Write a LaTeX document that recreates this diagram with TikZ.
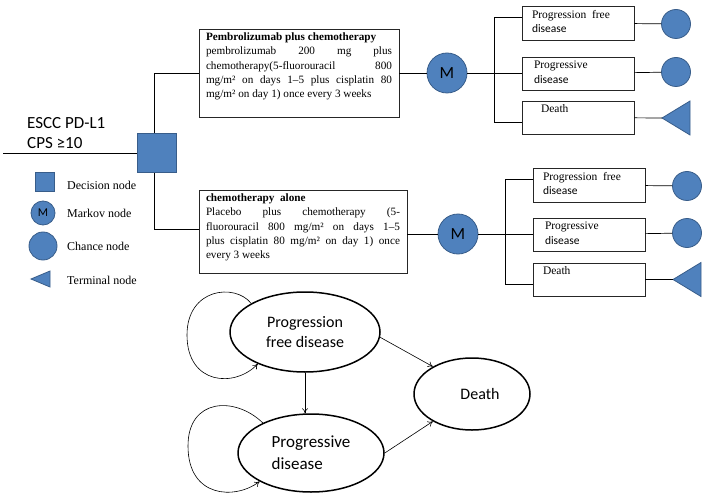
\documentclass[tikz,border=0pt]{standalone}
\usepackage{fontspec}
\setmainfont{Liberation Serif}
\setsansfont{Carlito}
\usetikzlibrary{shapes.geometric,arrows.meta}

\definecolor{nodeblue}{RGB}{79,129,189}
\definecolor{nodeedge}{RGB}{56,93,138}

% one line of a justified box, stretched to the full width
\newcommand\fillline[1]{\makebox[\linewidth][s]{#1}\par}

\tikzset{
  decision/.style={draw=nodeedge, fill=nodeblue, line width=0.8pt, inner sep=0, minimum size=#1},
  decision/.default=39pt,
  markov/.style={circle, draw=nodeedge, fill=nodeblue, line width=0.8pt, inner sep=0, minimum size=#1},
  markov/.default=40pt,
  chance/.style={circle, draw=nodeedge, fill=nodeblue, line width=0.8pt, inner sep=0, minimum size=#1},
  chance/.default=29pt,
  terminal/.style={draw=nodeedge, fill=nodeblue, line width=0.8pt},
  armbox/.style={draw=black!85, line width=0.7pt, inner xsep=7pt, inner ysep=4pt,
    font=\fontsize{11.2}{14.2}\selectfont},
  statebox/.style={draw=black!85, line width=0.7pt, inner xsep=10pt, inner ysep=4pt,
    font=\fontsize{11.5}{14.5}\selectfont},
  legend/.style={anchor=west, inner sep=0, font=\fontsize{12}{13}\selectfont},
  state/.style={ellipse, draw, line width=1.5pt, inner sep=0},
  tree/.style={line width=0.7pt},
  move/.style={-{To[length=5pt,width=6pt]}, line width=0.6pt}
}

\begin{document}
\begin{tikzpicture}[x=1pt, y=-1pt]
    \useasboundingbox (0,0) rectangle (708,494);

    % Decision node and population
    \node[anchor=west, align=left, inner sep=0, font=\sffamily\fontsize{17}{20}\selectfont]
        (escc) at (27,133) {ESCC PD-L1\\CPS ≥10};
    \coordinate (start) at (3,153);
    \node[decision] (dec) at (157,153) {};
    \draw[tree] (start) -- (dec);

    % Arm boxes
    \node[armbox] (pembro) at (299,73) {\parbox[c][80pt][t]{186pt}{%
        \textbf{Pembrolizumab plus chemotherapy}\par
        \fillline{pembrolizumab 200 mg plus}
        \fillline{chemotherapy(5-fluorouracil 800}
        \fillline{mg/m² on days 1–5 plus cisplatin 80}
        mg/m² on day 1) once every 3 weeks}};
    \node[armbox] (chemo) at (303,231.5) {\parbox[c][75pt][t]{194pt}{%
        \textbf{chemotherapy\ \ alone}\par
        \fillline{Placebo plus chemotherapy (5-}
        \fillline{fluorouracil 800 mg/m² on days 1–5}
        \fillline{plus cisplatin 80 mg/m² on day 1) once}
        every 3 weeks}};
    \draw[tree] ([xshift=-3pt]dec.north) |- (pembro.west);
    \draw[tree] ([xshift=-3pt]dec.south) |- ([yshift=2.5pt]chemo.west);

    % Markov nodes
    \node[markov, font=\sffamily\fontsize{17}{17}\selectfont] (mk1) at (447,73) {M};
    \node[markov, font=\sffamily\fontsize{17}{17}\selectfont] (mk2) at (458,234) {M};
    \draw[tree] (pembro) -- (mk1);
    \draw[tree] (chemo.east |- mk2) -- (mk2);
    \coordinate (fork1) at (494,73);
    \coordinate (fork2) at (505,234);
    \draw[tree] (mk1) -- (fork1);
    \draw[tree] (mk2) -- (fork2);

    % Health states, upper arm
    \node[statebox] (pf1) at (578,23) {\parbox[c][26pt][t]{92pt}{Progression\ \ free\\\sffamily disease}};
    \node[statebox] (pg1) at (578,73.5) {\parbox[c][25pt][t]{92pt}{\hspace{2pt}Progressive\\\hspace*{2pt}\sffamily disease}};
    \node[statebox] (de1) at (578,117.5) {\parbox[c][25pt][t]{92pt}{\hspace{9pt}Death}};
    \draw[tree] (fork1) |- ([yshift=6pt]pf1.west);
    \draw[tree] (fork1) |- (pg1.west);
    \draw[tree] (fork1) |- ([yshift=-5pt]de1.west);

    % Health states, lower arm
    \node[statebox] (pf2) at (589,185) {\parbox[c][26pt][t]{92pt}{Progression\ \ free\\\sffamily disease}};
    \node[statebox] (pg2) at (589,234.5) {\parbox[c][25pt][t]{92pt}{\hspace{2pt}Progressive\\\hspace*{2pt}\sffamily disease}};
    \node[statebox] (de2) at (589,279.5) {\parbox[c][25pt][t]{92pt}{Death}};
    \draw[tree] (fork2) |- ([yshift=6pt]pf2.west);
    \draw[tree] (fork2) |- (pg2.west);
    \draw[tree] (fork2) |- ([yshift=-5pt]de2.west);

    % Chance and terminal nodes
    \node[chance] (c1) at (676,24) {};
    \node[chance] (c2) at (676,72) {};
    \node[chance] (c3) at (687,186) {};
    \node[chance] (c4) at (687,233) {};
    \coordinate (t1) at (662,118);
    \coordinate (t2) at (673,279.5);
    \draw[terminal] (t1) -- ++(28,-17) -- ++(0,34) -- cycle;
    \draw[terminal] (t2) -- ++(28,-17) -- ++(0,34) -- cycle;
    \draw[tree] (pf1) -- (c1);
    \draw[tree] (pg1) -- (c2);
    \draw[tree] (de1) -- (t1);
    \draw[tree] (pf2) -- (c3);
    \draw[tree] (pg2) -- (c4);
    \draw[tree] (de2) -- (t2);

    % Legend
    \node[decision=19pt] (legdec) at (45,182) {};
    \node[markov=24pt, font=\sffamily\fontsize{12}{12}\selectfont] (legmk) at (43,213) {M};
    \node[chance=28pt] (legch) at (43,246) {};
    \coordinate (legterm) at (31,279);
    \draw[terminal] (legterm) -- ++(19,-8) -- ++(0,16) -- cycle;
    \node[legend] (legdectext) at (67,185) {Decision node};
    \node[legend] (legmktext) at (67,213) {Markov node};
    \node[legend] (legchtext) at (67,246) {Chance node};
    \node[legend] (legtermtext) at (67,280) {Terminal node};

    % Markov state diagram
    \node[state, minimum width=150pt, minimum height=80pt, align=center,
        font=\sffamily\fontsize{16}{19.5}\selectfont] (pfs) at (305,332) {Progression\\free disease};
    \node[state, minimum width=146pt, minimum height=78pt, align=left,
        font=\sffamily\fontsize{17}{22}\selectfont] (pd) at (311,453) {Progressive\\disease};
    \node[state, minimum width=116pt, minimum height=72pt,
        font=\sffamily\fontsize{16}{19}\selectfont] (death) at (472,394) {\hspace{16pt}Death};
    \draw[move] (pfs.-4) -- (death.145);
    \draw[move] (pd.east) -- (death.215);
    \draw[move] (pfs.south) -- (pfs.south |- pd.north);
    \draw[move] (pfs.152) .. controls (235,283) and (187,288) .. (187,335)
        .. controls (187,385) and (235,388) .. (pfs.214);
    \draw[move] (pd.148) .. controls (235,396) and (188,398) .. (188,446)
        .. controls (188,498) and (235,500) .. (pd.209);

\end{tikzpicture}
\end{document}
